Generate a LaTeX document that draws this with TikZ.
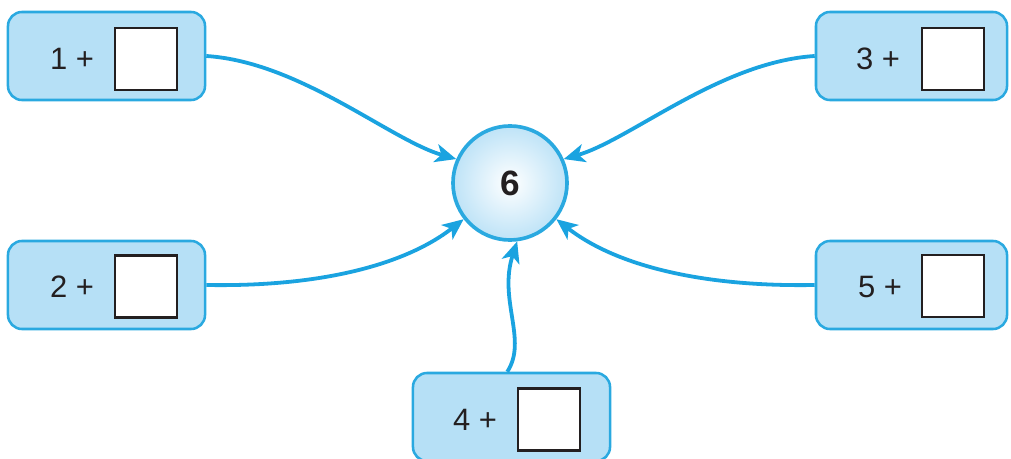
\documentclass[tikz,border=0pt]{standalone}
\usepackage{fontspec}
\setmainfont{Liberation Sans}
\usetikzlibrary{arrows.meta}
\definecolor{boxfill}{HTML}{B6E0F6}
\definecolor{boxline}{HTML}{2AA9E0}
\definecolor{arrowc}{HTML}{1AA3E0}
\definecolor{circin}{HTML}{FFFFFF}
\definecolor{circout}{HTML}{BEE3F7}
\definecolor{ink}{HTML}{231F20}
\tikzset{
  addbox/.style={draw=boxline, fill=boxfill, line width=1.8pt, rounded corners=10pt,
    minimum height=2.2cm, inner sep=0pt},
  lbox/.style={addbox, minimum width=4.925cm},
  rbox/.style={addbox, minimum width=4.775cm},
  answer/.style={draw=ink, fill=white, line width=1.7pt, minimum size=1.55cm, inner sep=0pt},
  addtext/.style={text=ink, font=\fontsize{22}{26}\selectfont, inner sep=0pt},
  target/.style={circle, draw=boxline, line width=2.6pt, minimum size=2.85cm, inner sep=0pt,
    inner color=circin, outer color=circout, font=\fontsize{25}{29}\selectfont\bfseries, text=ink},
  link/.style={draw=arrowc, line width=2.7pt, -{Stealth[length=15pt,width=13pt,inset=4pt]}}
}
\begin{document}
\begin{tikzpicture}[x=0.025cm,y=-0.025cm]
\useasboundingbox (0,0) rectangle (1011,459);
% boxes
\node[lbox] (b1) at (106.5,56) {};
\node[lbox] (b2) at (106.5,285) {};
\node[rbox] (b3) at (911.5,56) {};
\node[rbox] (b5) at (911.5,285) {};
\node[lbox] (b4) at (511.5,417) {};
% texts
\node[addtext] (t1) at (72,59) {1 +};
\node[addtext] (t2) at (72,287) {2 +};
\node[addtext] (t3) at (878,59) {3 +};
\node[addtext] (t5) at (880,287) {5 +};
\node[addtext] (t4) at (475,420) {4 +};
% answer squares
\node[answer] (s1) at (146,59) {};
\node[answer] (s2) at (146,286.5) {};
\node[answer] (s3) at (953,59) {};
\node[answer] (s5) at (953,286) {};
\node[answer] (s4) at (549,419.5) {};
% circle
\node[target] (c) at (510,183) {6};
% arrows
\draw[link] (b1.east) .. controls (300,62) and (390,140) .. (c.156);
\draw[link] (b2.east) .. controls (320,287) and (405,265) .. (c.218);
\draw[link] (b3.west) .. controls (720,62) and (630,140) .. (c.24);
\draw[link] (b5.west) .. controls (700,287) and (615,265) .. (c.322);
\draw[link] ([xshift=-3pt]b4.north) .. controls (528,340) and (498,300) .. (c.277);
\end{tikzpicture}
\end{document}
